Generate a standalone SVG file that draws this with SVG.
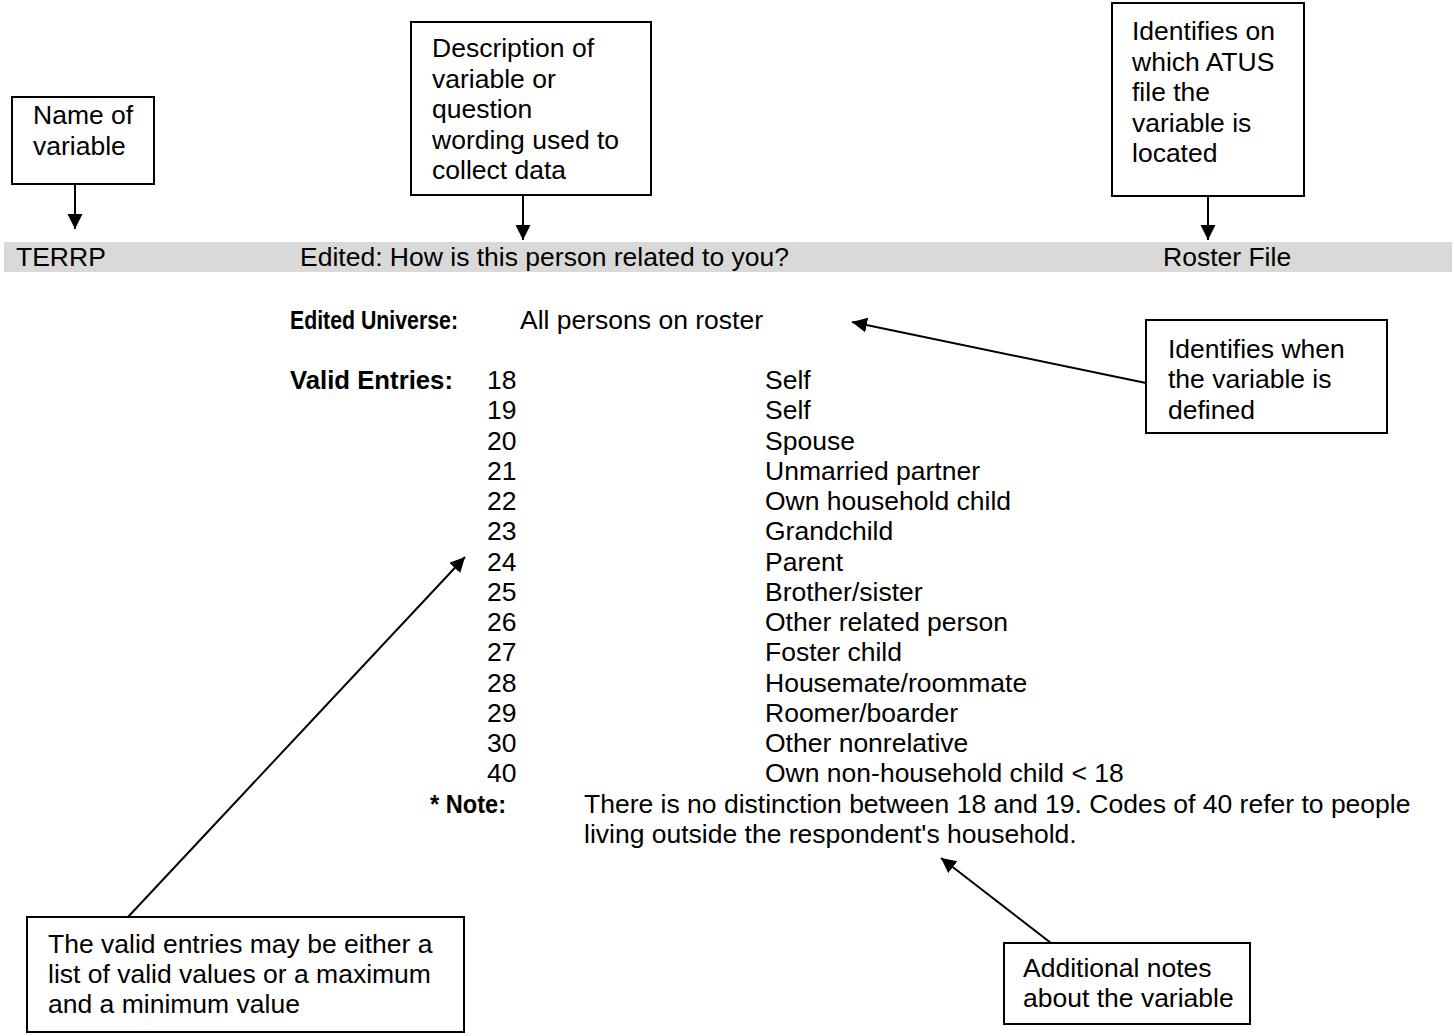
<svg xmlns="http://www.w3.org/2000/svg" width="1454" height="1036" viewBox="0 0 1454 1036">
<style>
.t{font-family:"Liberation Sans",Arial,sans-serif;font-size:26.5px;fill:#000}
.b{font-family:"Liberation Sans Narrow","Liberation Sans",Arial,sans-serif;font-size:26.5px;font-weight:bold;fill:#000}
.box{fill:#fff;stroke:#000;stroke-width:2}
.con{stroke:#000;stroke-width:2;fill:none;marker-end:url(#ah)}
</style>
<defs>
<marker id="ah" markerUnits="userSpaceOnUse" markerWidth="16" markerHeight="16" refX="15" refY="7.5" orient="auto">
<path d="M0,0 L15,7.5 L0,15 z" fill="#000"/>
</marker>
</defs>
<rect x="4" y="242" width="1448" height="30" fill="#d9d9d9"/>
<g id="record">
<text class="t" x="16" y="266">TERRP</text>
<text class="t" x="300" y="266">Edited: How is this person related to you?</text>
<text class="t" x="1163" y="266">Roster File</text>
<text class="b" x="290" y="329" textLength="168" lengthAdjust="spacingAndGlyphs">Edited Universe:</text>
<text class="t" x="520" y="329">All persons on roster</text>
<text class="b" x="290" y="389" textLength="163" lengthAdjust="spacingAndGlyphs">Valid Entries:</text>
<g class="t">
<text class="t" x="487" y="389">18</text><text class="t" x="765" y="389">Self</text>
<text class="t" x="487" y="419.25">19</text><text class="t" x="765" y="419.25">Self</text>
<text class="t" x="487" y="449.5">20</text><text class="t" x="765" y="449.5">Spouse</text>
<text class="t" x="487" y="479.75">21</text><text class="t" x="765" y="479.75">Unmarried partner</text>
<text class="t" x="487" y="510">22</text><text class="t" x="765" y="510">Own household child</text>
<text class="t" x="487" y="540.25">23</text><text class="t" x="765" y="540.25">Grandchild</text>
<text class="t" x="487" y="570.5">24</text><text class="t" x="765" y="570.5">Parent</text>
<text class="t" x="487" y="600.75">25</text><text class="t" x="765" y="600.75">Brother/sister</text>
<text class="t" x="487" y="631">26</text><text class="t" x="765" y="631">Other related person</text>
<text class="t" x="487" y="661.25">27</text><text class="t" x="765" y="661.25">Foster child</text>
<text class="t" x="487" y="691.5">28</text><text class="t" x="765" y="691.5">Housemate/roommate</text>
<text class="t" x="487" y="721.75">29</text><text class="t" x="765" y="721.75">Roomer/boarder</text>
<text class="t" x="487" y="752">30</text><text class="t" x="765" y="752">Other nonrelative</text>
<text class="t" x="487" y="782.25">40</text><text class="t" x="765" y="782.25">Own non-household child &lt; 18</text>
</g>
<text class="b" x="430" y="812.5" textLength="76" lengthAdjust="spacingAndGlyphs">* Note:</text>
<text class="t" x="584" y="812.5">There is no distinction between 18 and 19. Codes of 40 refer to people</text>
<text class="t" x="584" y="842.75">living outside the respondent's household.</text>
</g>
<g id="connectors">
<line class="con" x1="75" y1="184" x2="75" y2="229"/>
<line class="con" x1="523" y1="195" x2="523" y2="240"/>
<line class="con" x1="1208" y1="196" x2="1208" y2="240"/>
<line class="con" x1="1146" y1="383" x2="852" y2="322"/>
<line class="con" x1="128" y1="917" x2="465" y2="557"/>
<line class="con" x1="1051" y1="943" x2="941" y2="858"/>
</g>
<g id="name-box">
<rect class="box" x="12" y="97" width="142" height="87"/>
<text class="t" x="33" y="124">Name of</text>
<text class="t" x="33" y="155">variable</text>
</g>
<g id="description-box">
<rect class="box" x="411" y="22" width="240" height="173"/>
<text class="t" x="432" y="57">Description of</text>
<text class="t" x="432" y="87.5">variable or</text>
<text class="t" x="432" y="118">question</text>
<text class="t" x="432" y="148.5">wording used to</text>
<text class="t" x="432" y="179">collect data</text>
</g>
<g id="file-box">
<rect class="box" x="1112" y="3" width="192" height="193"/>
<text class="t" x="1132" y="40">Identifies on</text>
<text class="t" x="1132" y="70.5">which ATUS</text>
<text class="t" x="1132" y="101">file the</text>
<text class="t" x="1132" y="131.5">variable is</text>
<text class="t" x="1132" y="162">located</text>
</g>
<g id="universe-box">
<rect class="box" x="1146" y="320" width="241" height="113"/>
<text class="t" x="1168" y="358">Identifies when</text>
<text class="t" x="1168" y="388">the variable is</text>
<text class="t" x="1168" y="419">defined</text>
</g>
<g id="entries-box">
<rect class="box" x="27" y="917" width="437" height="115"/>
<text class="t" x="48" y="953">The valid entries may be either a</text>
<text class="t" x="48" y="983">list of valid values or a maximum</text>
<text class="t" x="48" y="1013">and a minimum value</text>
</g>
<g id="notes-box">
<rect class="box" x="1004" y="943" width="246" height="81"/>
<text class="t" x="1023" y="977">Additional notes</text>
<text class="t" x="1023" y="1007">about the variable</text>
</g>
</svg>
